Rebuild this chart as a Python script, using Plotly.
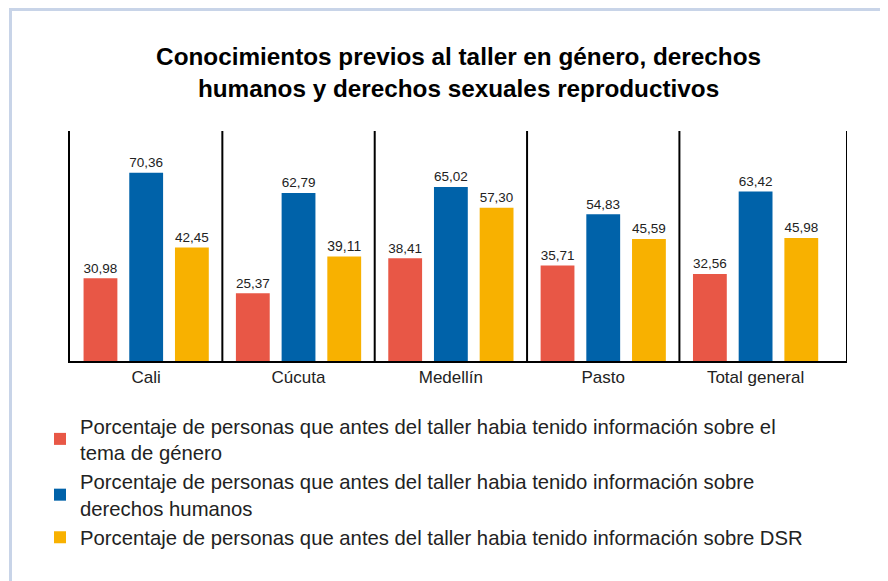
import plotly.graph_objects as go

# datos
ciudades = ['Cali', 'Cúcuta', 'Medellín', 'Pasto', 'Total general']
genero = [30.98, 25.37, 38.41, 35.71, 32.56]
derechos_humanos = [70.36, 62.79, 65.02, 54.83, 63.42]
dsr = [42.45, 39.11, 57.30, 45.59, 45.98]

nombres = [
    'Porcentaje de personas que antes del taller habia tenido información sobre el<br>tema de género',
    'Porcentaje de personas que antes del taller habia tenido información sobre<br>derechos humanos',
    'Porcentaje de personas que antes del taller habia tenido información sobre DSR',
]
colores = ['#E85746', '#0062A9', '#F8B100']

# la pagina tiene 8px de margen en el body
OFF = 8
W, H = 888 - OFF, 581 - OFF
L, R, T, B = 70 - OFF, 41, 131 - OFF, 220
pw, ph = W - L - R, H - T - B


def px_x(p):
    return (p - OFF - L) / pw


def px_y(p):
    return (H - B - (p - OFF)) / ph


fig = go.Figure()
for nombre, valores, color in zip(nombres, [genero, derechos_humanos, dsr], colores):
    fig.add_trace(go.Bar(
        x=ciudades, y=valores, name=nombre,
        marker=dict(color=color, line=dict(width=0)),
        texttemplate='%{y:.2f}', textposition='outside',
        textfont=dict(family='Liberation Sans', size=15.5, color='#222222'),
        cliponaxis=False,
    ))

fig.update_layout(
    width=W, height=H,
    margin=dict(l=L, r=R, t=T, b=B, autoexpand=False),
    paper_bgcolor='white', plot_bgcolor='white',
    separators=',.',
    barmode='group', bargap=0.1, bargroupgap=0.26,
    font=dict(family='Liberation Sans', color='#222222'),
    title=dict(
        text='<b>Conocimientos previos al taller en género, derechos<br>humanos y derechos sexuales reproductivos</b>',
        x=0.512, xanchor='center', y=0.9, yanchor='middle',
        font=dict(family='Liberation Sans', size=24.3, color='black'),
    ),
    showlegend=True,
    legend=dict(
        x=px_x(40), xanchor='left', y=px_y(406), yanchor='top',
        font=dict(family='Liberation Sans', size=20.3, color='#222222'),
        bgcolor='rgba(0,0,0,0)', tracegroupgap=0,
    ),
)

fig.update_xaxes(
    range=[-0.5, 4.6], showgrid=False, showline=True, linecolor='black', linewidth=2,
    ticks='', tickfont=dict(family='Liberation Sans', size=17, color='#222222'),
)
fig.update_yaxes(
    range=[0, 86], showgrid=False, showline=True, linecolor='black', linewidth=2,
    showticklabels=False, ticks='', zeroline=False,
)

# separadores verticales entre ciudades
for xs in [0.5, 1.5, 2.5, 3.5, 4.6]:
    fig.add_shape(type='line', xref='x', yref='paper', x0=xs, x1=xs, y0=0, y1=1,
                  line=dict(color='black', width=2))

# marco superior e izquierdo
borde = '#C8D4E8'
fig.add_shape(type='line', xref='paper', yref='paper', x0=px_x(9), x1=px_x(890),
              y0=px_y(9.5), y1=px_y(9.5), line=dict(color=borde, width=3))
fig.add_shape(type='line', xref='paper', yref='paper', x0=px_x(10.5), x1=px_x(10.5),
              y0=px_y(8), y1=px_y(590), line=dict(color=borde, width=3))

fig.write_html('out.html')
